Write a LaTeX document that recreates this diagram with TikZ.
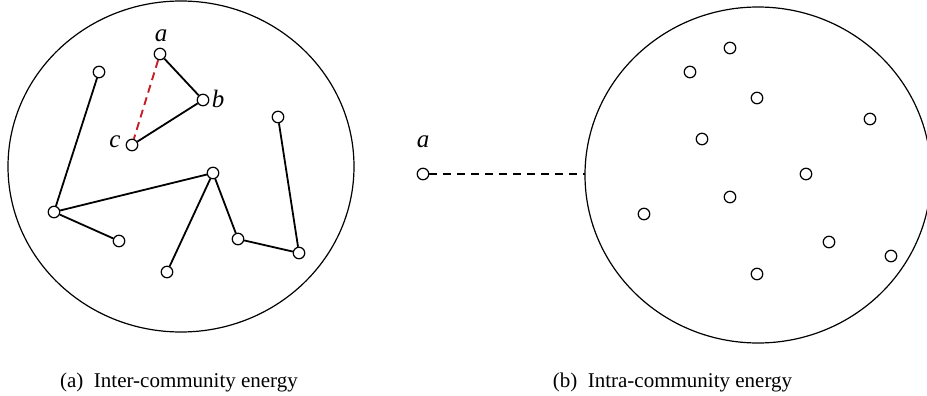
\documentclass[tikz,border=0pt]{standalone}
\usepackage{fontspec}
\setmainfont{Liberation Serif}
\begin{document}
\begin{tikzpicture}[x=1pt,y=-1pt,
  vtx/.style={circle,draw,line width=1.2pt,fill=white,minimum size=11.5pt,inner sep=0pt},
  link/.style={line width=1.8pt},
  reddash/.style={line width=1.9pt,draw={rgb,255:red,200;green,30;blue,40},dash pattern=on 8pt off 5pt},
  blackdash/.style={line width=1.9pt,dash pattern=on 8pt off 6pt},
  community/.style={draw,line width=1.2pt},
  lbl/.style={font=\fontsize{25}{29}\selectfont\itshape,inner sep=1pt},
  captext/.style={font=\fontsize{21}{25}\selectfont,anchor=base}]
\useasboundingbox (0,0) rectangle (927,396);
% communities
\draw[community] (181,166.5) ellipse [x radius=173, y radius=165.5];
\draw[community] (758,175) ellipse [x radius=173, y radius=168];
% left community nodes
\node[vtx] (a) at (160,54) {};
\node[vtx] (b) at (203,100) {};
\node[vtx] (c) at (132,145) {};
\node[vtx] (n1) at (99,72) {};
\node[vtx] (n2) at (54,212) {};
\node[vtx] (n3) at (119,241) {};
\node[vtx] (n4) at (213,173) {};
\node[vtx] (n5) at (167,272) {};
\node[vtx] (n6) at (238,239) {};
\node[vtx] (n7) at (299,253) {};
\node[vtx] (n8) at (278,117) {};
\node[lbl] (la) at (161,36) {a};
\node[lbl] (lb) at (218,99) {b};
\node[lbl] (lc) at (115,142) {c};
\draw[link] (a) -- (b);
\draw[link] (b) -- (c);
\draw[reddash] (a) -- (c);
\draw[link] (n1) -- (n2);
\draw[link] (n2) -- (n3);
\draw[link] (n2) -- (n4);
\draw[link] (n4) -- (n5);
\draw[link] (n4) -- (n6);
\draw[link] (n6) -- (n7);
\draw[link] (n7) -- (n8);
% right side
\node[vtx] (ra) at (423,174) {};
\node[lbl] (lra) at (423,142) {a};
\coordinate (edgeL) at (585,174);
\draw[blackdash] (ra) -- (edgeL);
\foreach \i/\p in {1/{(730,48)},2/{(690,72)},3/{(757,98)},4/{(870,119)},5/{(702,139)},6/{(806,174)},7/{(730,197)},8/{(644,214)},9/{(829,242)},10/{(891,256)},11/{(757,274)}}
  \node[vtx] (r\i) at \p {};
% captions
\node[captext] (capa) at (179,387) {(a)\enspace Inter-community energy};
\node[captext] (capb) at (672.5,387) {(b)\enspace Intra-community energy};
\end{tikzpicture}
\end{document}
